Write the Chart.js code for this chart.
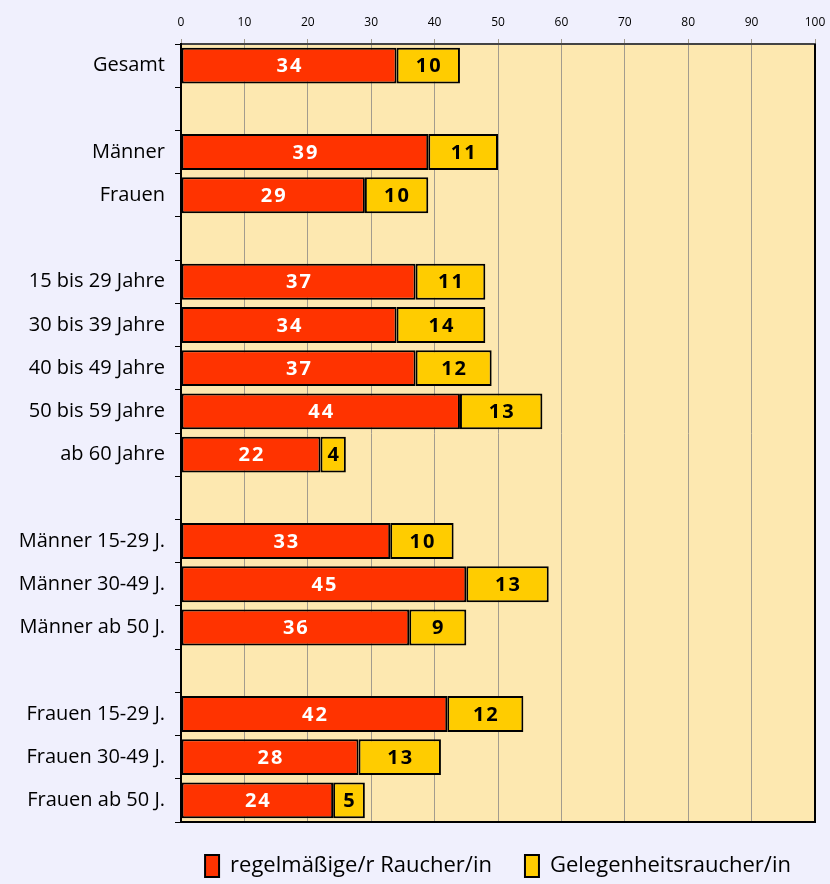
<!DOCTYPE html>
<html>
<head>
<meta charset="utf-8">
<script src="https://cdn.jsdelivr.net/npm/chart.js@4.4.0/dist/chart.umd.min.js"></script>
<style>
  html, body { margin: 0; padding: 0; background: #f0f0fd; }
  #wrap { width: 830px; height: 884px; }
</style>
</head>
<body>
<div id="wrap"><canvas id="chart" width="830" height="884"></canvas></div>
<script>
// categories, '' = empty spacer row between groups
const categories = [
    'Gesamt', '',
    'Männer', 'Frauen', '',
    '15 bis 29 Jahre', '30 bis 39 Jahre', '40 bis 49 Jahre', '50 bis 59 Jahre', 'ab 60 Jahre', '',
    'Männer 15-29 J.', 'Männer 30-49 J.', 'Männer ab 50 J.', '',
    'Frauen 15-29 J.', 'Frauen 30-49 J.', 'Frauen ab 50 J.'
];
const regular = [34, null, 39, 29, null, 37, 34, 37, 44, 22, null, 33, 45, 36, null, 42, 28, 24];
const occasional = [10, null, 11, 10, null, 11, 14, 12, 13, 4, null, 10, 13, 9, null, 12, 13, 5];
const xTicks = [0, 10, 20, 30, 40, 50, 60, 70, 80, 90, 100];

const FONT = "'Open Sans', 'DejaVu Sans', sans-serif";

// plot background, frame, legend placement
const plotBg = {
    id: 'plotBg',
    beforeLayout(chart) {
        // fixed legend height so the plot keeps its size
        const lg = chart.legend;
        if (lg && !lg._fixed) {
            const fit = lg.fit;
            lg.fit = function () {
                fit.call(this);
                this.height = 58;
            };
            lg._fixed = true;
        }
    },
    afterLayout(chart) {
        // centre the legend under the plot area instead of the whole canvas
        const lg = chart.legend;
        const a = chart.chartArea;
        const shift = (a.left + a.right) / 2 - (lg.left + lg.right) / 2;
        lg.left += shift;
        lg.right += shift;
    },
    beforeDraw(chart) {
        const { ctx, chartArea: a } = chart;
        ctx.save();
        ctx.fillStyle = '#fde8b0';
        ctx.fillRect(a.left, a.top, a.right - a.left, a.bottom - a.top);
        ctx.restore();
    },
    afterDraw(chart) {
        const { ctx, chartArea: a } = chart;
        ctx.save();
        ctx.strokeStyle = '#000';
        ctx.lineWidth = 2;
        ctx.beginPath();
        ctx.moveTo(a.right, a.top);
        ctx.lineTo(a.right, a.bottom);
        ctx.lineTo(a.left, a.bottom);
        ctx.stroke();
        ctx.restore();
    }
};

// value labels in bar centres
const barLabels = {
    id: 'barLabels',
    afterDatasetsDraw(chart) {
        const { ctx } = chart;
        ctx.save();
        ctx.font = "bold 20px " + FONT;
        ctx.letterSpacing = '2px';
        ctx.textAlign = 'center';
        ctx.textBaseline = 'middle';
        chart.data.datasets.forEach((ds, i) => {
            const meta = chart.getDatasetMeta(i);
            meta.data.forEach((bar, j) => {
                const v = ds.data[j];
                if (v == null) return;
                const p = bar.getProps(['x', 'y', 'base'], true);
                ctx.fillStyle = i === 0 ? '#ffffff' : '#000000';
                ctx.fillText(String(v), (p.x + p.base) / 2 + 1, p.y + 1);
            });
        });
        ctx.restore();
    }
};

new Chart(document.getElementById('chart'), {
    type: 'bar',
    data: {
        labels: categories,
        datasets: [
            {
                label: 'regelmäßige/r Raucher/in',
                data: regular,
                backgroundColor: '#ff3300',
                borderColor: '#000',
                borderWidth: 2,
                borderSkipped: false,
                categoryPercentage: 1,
                barPercentage: 0.83
            },
            {
                label: 'Gelegenheitsraucher/in',
                data: occasional,
                backgroundColor: '#ffcc00',
                borderColor: '#000',
                borderWidth: 2,
                borderSkipped: false,
                categoryPercentage: 1,
                barPercentage: 0.83
            }
        ]
    },
    options: {
        indexAxis: 'y',
        responsive: false,
        animation: false,
        layout: { padding: { top: 8, right: 15, left: 0, bottom: 4 } },
        plugins: {
            tooltip: { enabled: false },
            legend: {
                position: 'bottom',
                labels: {
                    font: { family: FONT, size: 22 },
                    color: '#000',
                    boxWidth: 14,
                    boxHeight: 22,
                    padding: 33
                }
            }
        },
        scales: {
            x: {
                position: 'top',
                stacked: true,
                min: 0,
                max: 100,
                afterBuildTicks(scale) {
                    scale.ticks = xTicks.map(v => ({ value: v }));
                },
                ticks: {
                    font: { family: FONT, size: 12 },
                    color: '#000',
                    padding: 9
                },
                grid: {
                    color: '#a39c8e',
                    lineWidth: 1,
                    tickLength: 5
                },
                border: { color: '#444', width: 2 },
                afterFit(scale) {
                    scale.height = 36;
                    scale.paddingLeft = 0;
                    scale.paddingRight = 0;
                }
            },
            y: {
                stacked: true,
                ticks: {
                    font: { family: FONT, size: 20 },
                    color: '#000',
                    padding: 10
                },
                grid: {
                    drawOnChartArea: false,
                    color: '#000',
                    tickLength: 6
                },
                border: { color: '#000', width: 2 },
                afterFit(scale) { scale.width = 181; }
            }
        }
    },
    plugins: [plotBg, barLabels]
});
</script>
</body>
</html>
